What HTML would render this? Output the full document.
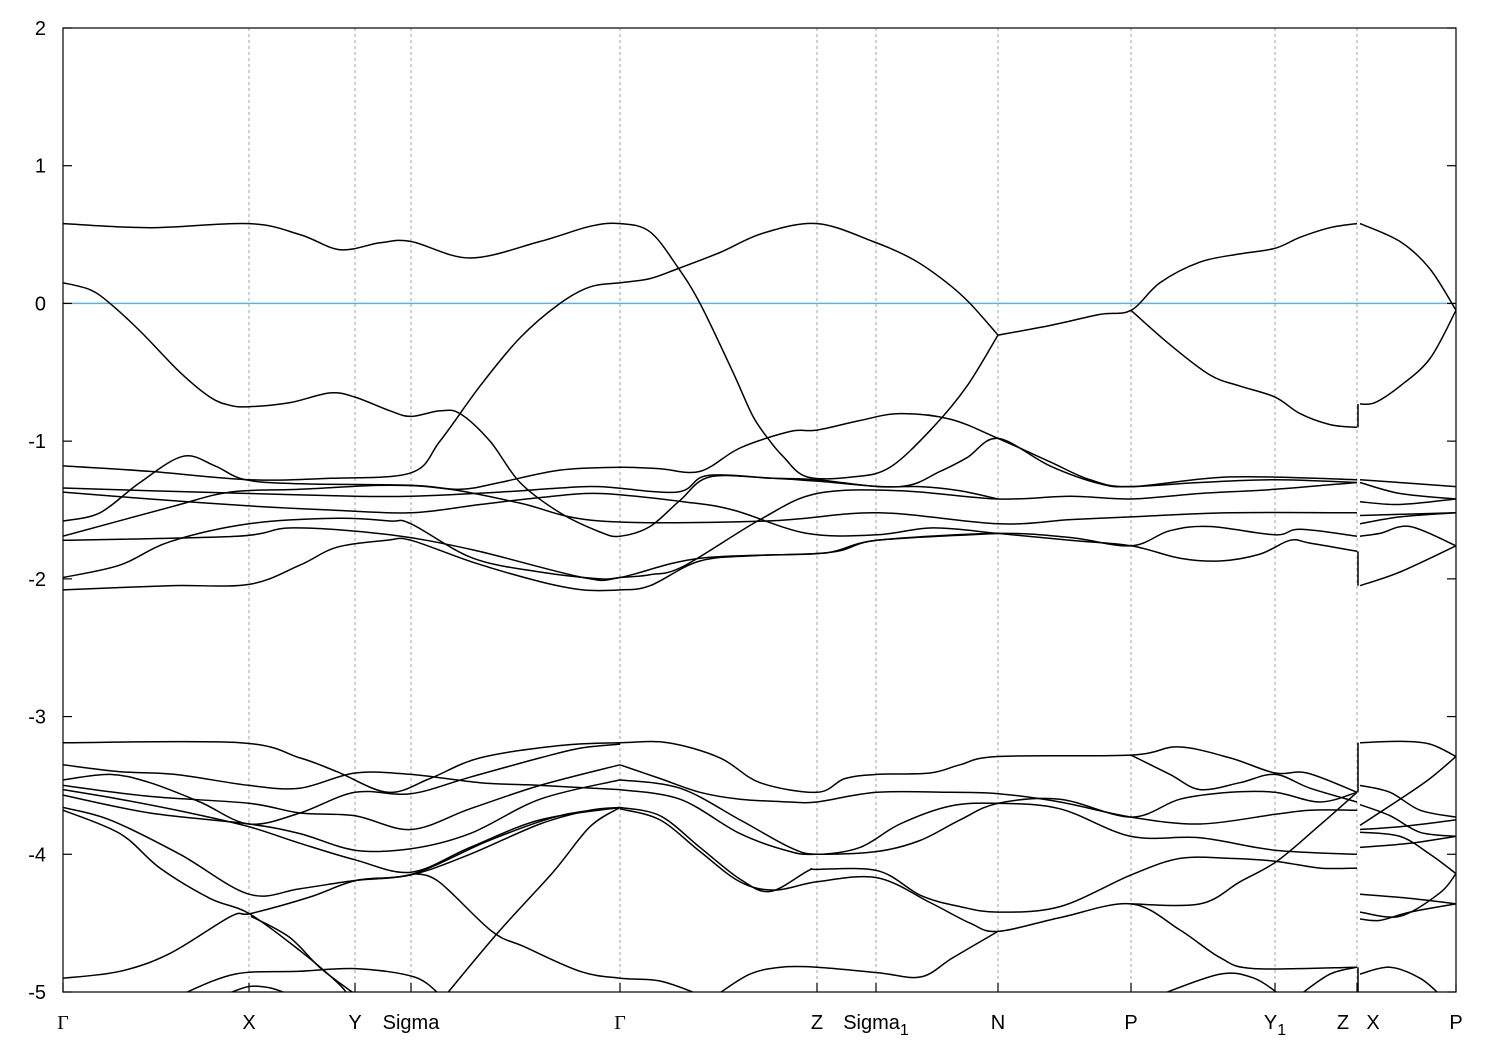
<!DOCTYPE html>
<html><head><meta charset="utf-8"><style>
html,body{margin:0;padding:0;background:#fff}
svg{display:block;font-family:"Liberation Sans",sans-serif}
</style></head><body>
<svg id="chart" width="1500" height="1050" viewBox="0 0 1500 1050" xmlns="http://www.w3.org/2000/svg">
<defs><clipPath id="pc"><rect x="63" y="28" width="1393" height="964"/></clipPath></defs>
<g id="grid"></g>
<g id="fermi"></g>
<g id="bands" clip-path="url(#pc)"></g>
<rect x="63" y="28" width="1393" height="964" fill="none" stroke="#000" stroke-width="1.2"/>
<g id="yaxis"></g>
<g id="xaxis"></g>
</svg>
<script>
const kMin = 63, kMax = 1456;
const eMin = -5, eMax = 2;
const yTicks = [-5,-4,-3,-2,-1,0,1,2];
const kTicks = [63,249,355,411,620,817,876,998,1131,1275,1357,1456];
const kLabels = ["Γ","X","Y","Sigma","Γ","Z","Sigma|1","N","P","Y|1","Z X","P"];
const fermiEnergy = 0;
const bands = [
 [[63,.58],[150,.55],[249,.58],[300,.5],[340,.39],[380,.44],[411,.45],[470,.33],[540,.45],[590,.56],[620,.58],[650,.52],[678,.26],[700,0],[733,-.5],[753,-.82],[770,-1.0],[783,-1.11],[807,-1.26],[853,-1.26],[890,-1.19],[933,-.9],[967,-.6],[998,-.23]],
 [[63,.15],[90,.1],[110,0],[140,-.2],[180,-.5],[210,-.68],[230,-.74],[249,-.75],[290,-.72],[330,-.65],[355,-.68],[390,-.78],[411,-.82],[440,-.78],[460,-.8],[490,-1.0],[520,-1.3],[560,-1.52],[600,-1.66],[620,-1.69],[650,-1.62],[680,-1.43],[710,-1.26],[773,-1.27],[817,-1.28],[877,-1.33],[920,-1.33],[960,-1.36],[998,-1.42]],
 [[63,-1.18],[150,-1.22],[249,-1.28],[330,-1.27],[411,-1.23],[440,-1.0],[480,-.6],[520,-.25],[560,0],[590,.12],[620,.15],[650,.18],[677,.25],[720,.37],[763,.51],[817,.58],[873,.45],[913,.32],[947,.15],[970,0],[998,-.23]],
 [[998,-.23],[1050,-.16],[1100,-.08],[1131,-.05],[1160,.15],[1200,.3],[1240,.36],[1275,.4],[1300,.48],[1330,.55],[1357,.58]],
 [[1131,-.05],[1170,-.3],[1210,-.52],[1240,-.6],[1275,-.68],[1300,-.8],[1330,-.88],[1357,-.9]],
 [[1360,.58],[1400,.45],[1430,.25],[1456,-.05]],
 [[1360,-.73],[1375,-.72],[1400,-.6],[1430,-.4],[1456,-.05]],
 [[63,-1.58],[100,-1.52],[140,-1.3],[183,-1.11],[215,-1.18],[245,-1.28],[300,-1.31],[411,-1.32],[460,-1.35],[500,-1.3],[560,-1.21],[620,-1.19],[660,-1.2],[700,-1.22],[740,-1.05],[790,-.93],[817,-.92],[860,-.85],[900,-.8],[950,-.84],[998,-.98],[1050,-1.15],[1090,-1.28],[1131,-1.33],[1230,-1.26],[1357,-1.28]],
 [[63,-1.34],[150,-1.36],[249,-1.38],[355,-1.4],[411,-1.4],[500,-1.37],[560,-1.34],[600,-1.33],[677,-1.37],[707,-1.25],[773,-1.27],[817,-1.29],[900,-1.33],[940,-1.22],[967,-1.12],[998,-.98],[1050,-1.18],[1100,-1.31],[1131,-1.33],[1200,-1.3],[1275,-1.28],[1357,-1.3]],
 [[63,-1.37],[150,-1.42],[249,-1.47],[330,-1.5],[411,-1.52],[480,-1.46],[540,-1.41],[600,-1.38],[683,-1.44],[733,-1.5],[807,-1.67],[877,-1.68],[933,-1.63],[998,-1.67],[1070,-1.72],[1131,-1.76],[1180,-1.85],[1220,-1.87],[1260,-1.82],[1290,-1.72],[1310,-1.74],[1357,-1.8]],
 [[63,-1.69],[170,-1.48],[230,-1.37],[300,-1.35],[390,-1.32],[450,-1.35],[520,-1.45],[600,-1.58],[767,-1.58],[877,-1.52],[998,-1.6],[1070,-1.57],[1131,-1.55],[1230,-1.52],[1357,-1.52]],
 [[63,-1.72],[237,-1.69],[293,-1.63],[390,-1.68],[473,-1.79],[583,-1.99],[620,-1.99],[700,-1.85],[827,-1.81],[877,-1.72],[998,-1.67],[1070,-1.7],[1131,-1.76],[1170,-1.65],[1210,-1.62],[1275,-1.68],[1300,-1.64],[1357,-1.69]],
 [[63,-1.99],[120,-1.9],[170,-1.73],[249,-1.6],[337,-1.56],[390,-1.58],[411,-1.6],[473,-1.85],[540,-1.95],[600,-2.0],[620,-1.99],[650,-1.97],[683,-1.91],[760,-1.57],[817,-1.38],[900,-1.36],[998,-1.42],[1070,-1.4],[1131,-1.42],[1200,-1.38],[1275,-1.35],[1357,-1.3]],
 [[63,-2.08],[170,-2.05],[249,-2.04],[300,-1.9],[337,-1.77],[387,-1.72],[411,-1.72],[473,-1.88],[540,-2.02],[583,-2.08],[620,-2.08],[650,-2.05],[700,-1.87],[760,-1.83],[827,-1.81],[877,-1.72],[998,-1.67]],
 [[1360,-1.28],[1456,-1.33]],
 [[1360,-1.3],[1400,-1.38],[1456,-1.42]],
 [[1360,-1.44],[1400,-1.46],[1456,-1.42]],
 [[1360,-1.54],[1456,-1.52]],
 [[1360,-1.6],[1400,-1.55],[1456,-1.52]],
 [[1360,-1.69],[1380,-1.67],[1410,-1.62],[1456,-1.76]],
 [[1360,-2.05],[1400,-1.95],[1456,-1.76]],
 [[63,-3.19],[240,-3.19],[300,-3.3],[337,-3.4],[388,-3.55],[430,-3.45],[480,-3.3],[560,-3.21],[620,-3.19],[668,-3.19],[720,-3.3],[760,-3.48],[817,-3.55],[845,-3.45],[877,-3.42],[930,-3.41],[960,-3.35],[998,-3.29],[1131,-3.28],[1178,-3.22],[1230,-3.3],[1275,-3.41],[1307,-3.41],[1357,-3.55]],
 [[1131,-3.28],[1170,-3.42],[1200,-3.53],[1240,-3.48],[1275,-3.42],[1310,-3.52],[1357,-3.62]],
 [[63,-3.35],[120,-3.4],[175,-3.42],[249,-3.5],[300,-3.52],[355,-3.41],[411,-3.42],[480,-3.48],[540,-3.5],[620,-3.53]],
 [[63,-3.46],[110,-3.42],[150,-3.48],[200,-3.62],[249,-3.78],[300,-3.7],[355,-3.55],[411,-3.56],[470,-3.44],[540,-3.3],[580,-3.23],[620,-3.2]],
 [[63,-3.5],[150,-3.58],[249,-3.63],[300,-3.7],[355,-3.72],[411,-3.82],[470,-3.67],[540,-3.5],[620,-3.35]],
 [[63,-3.53],[120,-3.6],[190,-3.7],[249,-3.8],[300,-3.92],[355,-4.04],[411,-4.13],[470,-3.95],[540,-3.75],[620,-3.66]],
 [[63,-3.57],[150,-3.7],[249,-3.78],[300,-3.85],[355,-3.97],[411,-3.96],[470,-3.85],[540,-3.6],[620,-3.46]],
 [[63,-3.66],[110,-3.75],[180,-4.0],[249,-4.29],[300,-4.25],[355,-4.19],[411,-4.15],[470,-4.0],[540,-3.78],[590,-3.68],[620,-3.66]],
 [[63,-3.68],[120,-3.85],[160,-4.1],[210,-4.32],[249,-4.43],[300,-4.7],[340,-4.95],[350,-5.05]],
 [[63,-4.9],[120,-4.85],[170,-4.72],[231,-4.45],[251,-4.43],[310,-4.31],[356,-4.19],[414,-4.14],[489,-3.9],[560,-3.72],[620,-3.66]],
 [[251,-4.45],[289,-4.6],[321,-4.83],[356,-5.02]],
 [[414,-4.14],[439,-4.2],[492,-4.56],[524,-4.67],[580,-4.85],[620,-4.9],[660,-4.92],[700,-5.02]],
 [[446,-5.02],[499,-4.56],[553,-4.13],[590,-3.8],[620,-3.66]],
 [[181,-5.02],[235,-4.87],[300,-4.85],[356,-4.83],[414,-4.89],[440,-5.02]],
 [[225,-5.02],[249,-4.96],[270,-4.97],[290,-5.02]],
 [[620,-3.35],[660,-3.45],[700,-3.55],[740,-3.6],[790,-3.62],[817,-3.62],[877,-3.55],[950,-3.55],[998,-3.56],[1060,-3.62],[1131,-3.73],[1200,-3.78],[1275,-3.71],[1310,-3.68],[1357,-3.68]],
 [[620,-3.46],[680,-3.52],[740,-3.75],[790,-3.95],[817,-4.0],[860,-3.95],[900,-3.78],[950,-3.65],[998,-3.63],[1060,-3.67],[1131,-3.87],[1200,-3.88],[1275,-3.97],[1357,-4.0]],
 [[620,-3.53],[680,-3.6],[740,-3.85],[790,-3.98],[817,-4.0],[877,-3.98],[920,-3.9],[960,-3.75],[998,-3.63],[1060,-3.6],[1131,-3.73],[1180,-3.6],[1230,-3.55],[1275,-3.55],[1320,-3.62],[1357,-3.55]],
 [[620,-3.66],[660,-3.72],[700,-3.95],[740,-4.18],[770,-4.27],[808,-4.12],[817,-4.11],[878,-4.12],[921,-4.3],[960,-4.38],[998,-4.42],[1060,-4.38],[1131,-4.15],[1180,-4.03],[1230,-4.03],[1275,-4.05],[1320,-4.1],[1357,-4.1]],
 [[620,-3.67],[660,-3.75],[700,-3.98],[740,-4.2],[775,-4.26],[817,-4.2],[877,-4.17],[930,-4.35],[970,-4.5],[998,-4.56],[1060,-4.46],[1131,-4.36],[1180,-4.55],[1220,-4.75],[1254,-4.83],[1357,-4.82]],
 [[1131,-4.36],[1200,-4.36],[1240,-4.2],[1277,-4.05],[1318,-3.8],[1357,-3.55]],
 [[717,-5.02],[750,-4.87],[781,-4.82],[817,-4.82],[878,-4.86],[921,-4.89],[953,-4.75],[998,-4.56]],
 [[1160,-5.02],[1220,-4.87],[1254,-4.9],[1280,-5.02]],
 [[1300,-5.02],[1330,-4.87],[1357,-4.82]],
 [[1360,-3.19],[1400,-3.18],[1430,-3.2],[1456,-3.29]],
 [[1360,-3.79],[1400,-3.6],[1430,-3.45],[1456,-3.29]],
 [[1360,-3.5],[1390,-3.55],[1420,-3.68],[1456,-3.73]],
 [[1360,-3.64],[1390,-3.72],[1420,-3.84],[1456,-3.87]],
 [[1360,-3.82],[1400,-3.8],[1456,-3.75]],
 [[1360,-3.95],[1410,-3.92],[1456,-3.87]],
 [[1360,-3.84],[1400,-3.87],[1430,-4.0],[1456,-4.14]],
 [[1360,-4.29],[1410,-4.32],[1456,-4.36]],
 [[1360,-4.42],[1400,-4.45],[1440,-4.28],[1456,-4.14]],
 [[1360,-4.47],[1380,-4.48],[1410,-4.42],[1456,-4.36]],
 [[1360,-4.87],[1390,-4.82],[1420,-4.9],[1440,-5.02]]
];
const NS = "http://www.w3.org/2000/svg";
const X0 = 63, X1 = 1456, Y0 = 992, Y1 = 28;
function xs(k){ return X0 + (k - kMin) / (kMax - kMin) * (X1 - X0); }
function ys(e){ return Y0 - (e - eMin) / (eMax - eMin) * (Y0 - Y1); }
function mk(tag, attrs, parent){ const el = document.createElementNS(NS, tag); for (const a in attrs) el.setAttribute(a, attrs[a]); parent.appendChild(el); return el; }
const grid = document.getElementById('grid');
kTicks.forEach((k, i) => {
  if (i === 0 || i === kTicks.length - 1) return;
  const l = mk('line', {x1: xs(k), x2: xs(k), y1: Y1, y2: Y0, stroke: '#a0a0a0', 'stroke-width': 1, 'stroke-dasharray': '3,3'}, grid);
  
  
});
const fl = mk('line', {x1: X0, x2: X1, y1: ys(fermiEnergy), y2: ys(fermiEnergy), stroke: '#56b4e9', 'stroke-width': 1.5}, document.getElementById('fermi'));


function pathD(pts){
  const p = pts.map(q => [xs(q[0]), ys(q[1])]);
  let d = 'M' + p[0][0].toFixed(1) + ',' + p[0][1].toFixed(1);
  for (let i = 0; i < p.length - 1; i++) {
    const p0 = p[i - 1] || p[i], p1 = p[i], p2 = p[i + 1], p3 = p[i + 2] || p2;
    const c1x = p1[0] + (p2[0] - p0[0]) / 6, c1y = p1[1] + (p2[1] - p0[1]) / 6;
    const c2x = p2[0] - (p3[0] - p1[0]) / 6, c2y = p2[1] - (p3[1] - p1[1]) / 6;
    d += 'C' + c1x.toFixed(1) + ',' + c1y.toFixed(1) + ' ' + c2x.toFixed(1) + ',' + c2y.toFixed(1) + ' ' + p2[0].toFixed(1) + ',' + p2[1].toFixed(1);
  }
  return d;
}
const bg = document.getElementById('bands');
bands.forEach(b => {
  const p = mk('path', {d: pathD(b), fill: 'none', stroke: '#000', 'stroke-width': 1.5}, bg);
  
  
});
const disc = [[-0.9,-0.73],[-1.8,-2.05],[-3.55,-3.19],[-4.82,-5]];
disc.forEach(s => {
  const l = mk('line', {x1: xs(1358), x2: xs(1358), y1: ys(s[0]), y2: ys(s[1]), stroke: '#000', 'stroke-width': 1.5}, bg);
  
  
});
const ya = document.getElementById('yaxis');
yTicks.forEach(v => {
  const t = mk('text', {x: 46, y: ys(v) + 7, 'text-anchor': 'end', 'font-size': 20, fill: '#000'}, ya);
  t.textContent = String(v);
  
  
  const a = mk('line', {x1: X0, x2: X0 + 9, y1: ys(v), y2: ys(v), stroke: '#000', 'stroke-width': 1.2}, ya);
  
  
  const b = mk('line', {x1: X1 - 9, x2: X1, y1: ys(v), y2: ys(v), stroke: '#000', 'stroke-width': 1.2}, ya);
  
  
});
const xa = document.getElementById('xaxis');
function addLabel(x, txt, sub, serif){
  const t = mk('text', {x: x, y: 1029, 'text-anchor': 'middle', 'font-size': 20, fill: '#000'}, xa);
  if (serif) t.setAttribute('font-family', '"Liberation Serif", serif');
  t.textContent = txt;
  if (sub) {
    const s = document.createElementNS(NS, 'tspan');
    s.setAttribute('font-size', 16);
    s.setAttribute('dy', 6);
    s.textContent = sub;
    t.appendChild(s);
  }
  
  
}
kTicks.forEach((k, i) => {
  const a = mk('line', {x1: xs(k), x2: xs(k), y1: Y0, y2: Y0 - 9, stroke: '#000', 'stroke-width': 1.2}, xa);
  
  
  const lab = kLabels[i];
  if (lab === 'Z X') {
    addLabel(xs(k) - 14, 'Z', null, false);
    addLabel(xs(k) + 16, 'X', null, false);
    return;
  }
  const parts = lab.split('|');
  addLabel(xs(k), parts[0], parts[1], parts[0] === 'Γ');
});
</script>
</body></html>
